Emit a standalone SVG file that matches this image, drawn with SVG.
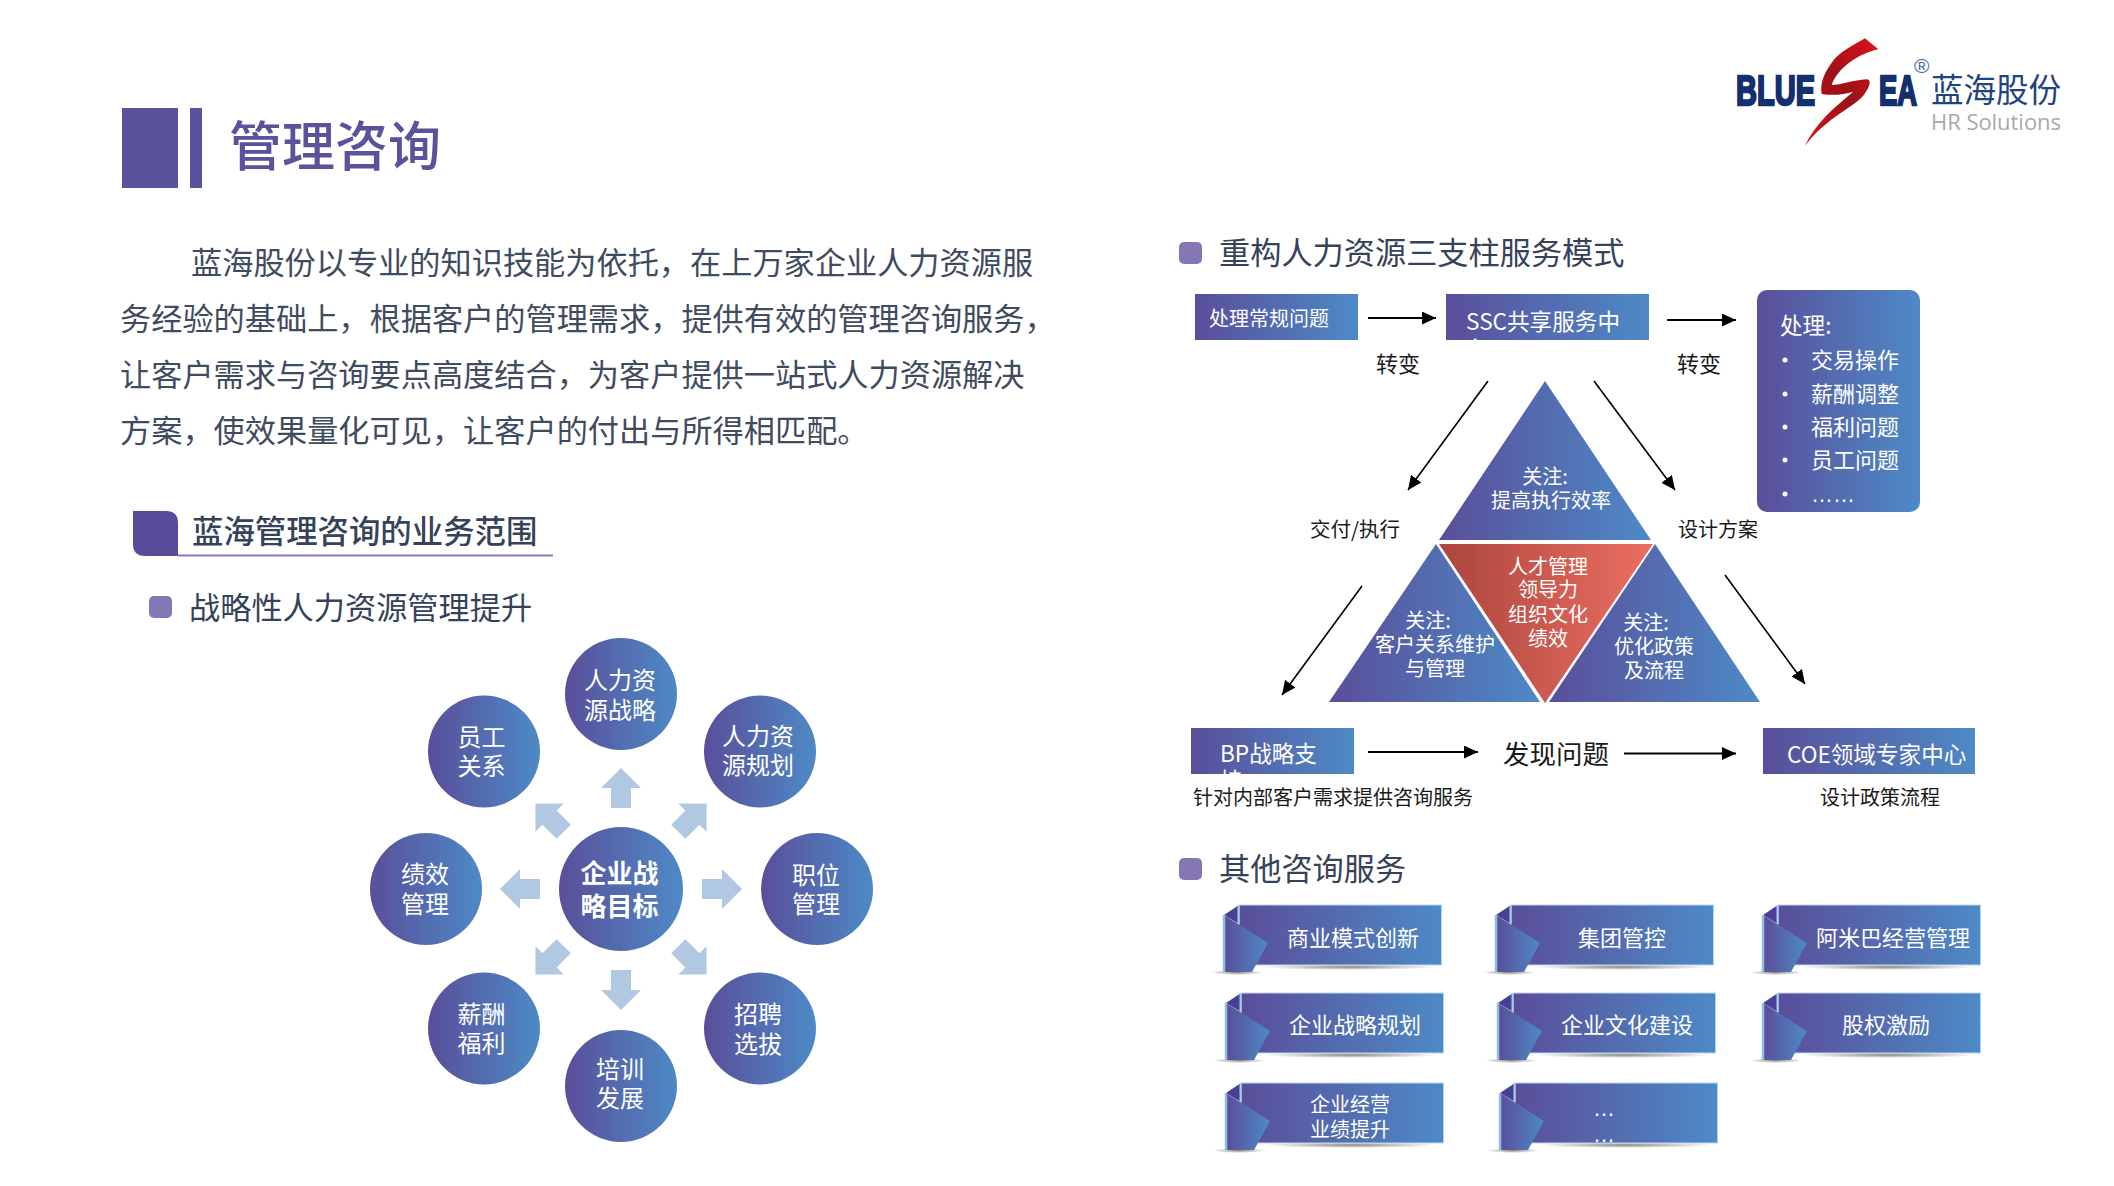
<svg xmlns="http://www.w3.org/2000/svg" width="2114" height="1186" viewBox="0 0 2114 1186">
<style>
text{font-family:"Noto Sans CJK SC","Noto Sans",sans-serif}
.w{fill:#fff}.m{text-anchor:middle}
.s20{font-size:20px}.s22{font-size:22px}.s225{font-size:22.6px}.s24{font-size:24px}
.k{fill:#1a1a1a}
.p{font-size:31.2px;fill:#3f4b60}
.h{font-size:31.2px;fill:#35435a}
.c{stroke:#000;stroke-width:2;fill:none;marker-end:url(#ah)}
.c2{stroke:#000;stroke-width:1.6;fill:none;marker-end:url(#ah)}
.hub{fill:#b1c8e2}
.bl{fill:#8576b4}
</style>
<defs>
<linearGradient id="g"><stop offset="0" stop-color="#5a4e9a"/><stop offset="1" stop-color="#4d8ac6"/></linearGradient>
<linearGradient id="r"><stop offset="0" stop-color="#ab463e"/><stop offset="1" stop-color="#ec6e62"/></linearGradient>
<linearGradient id="sw" x1="0.9" y1="0" x2="0.1" y2="1"><stop offset="0" stop-color="#d6121c"/><stop offset="0.5" stop-color="#9c1016"/><stop offset="1" stop-color="#d6121c"/></linearGradient>
<radialGradient id="sh"><stop offset="0" stop-color="#8d8880"/><stop offset="1" stop-color="#8d8880" stop-opacity="0"/></radialGradient>
<marker id="ah" markerUnits="userSpaceOnUse" markerWidth="16" markerHeight="14" refX="14" refY="6.5" orient="auto"><path d="M0 0L14 6.5L0 13Z" fill="#000"/></marker>
<polygon id="hub" class="hub" points="0,-121 20,-101 10,-101 10,-81 -10,-81 -10,-101 -20,-101"/>
<g id="rib">
<ellipse cx="110" cy="62" rx="88" ry="3" fill="url(#sh)"/>
<ellipse cx="-2" cy="67.5" rx="26" ry="2.5" fill="url(#sh)"/>
<rect x="0" y="0" width="202.6" height="60" fill="url(#g)" stroke="#b9d8ef" stroke-width="1"/>
<polygon points="-15,10 0,0 0,19" fill="#4a3f95"/>
<line x1="-0.5" y1="0" x2="-0.5" y2="19" stroke="#a8cfe9" stroke-width="2"/>
<polygon points="-15,10 29,38 13,67 -15,67" fill="url(#g)"/>
<line x1="-15" y1="10" x2="-15" y2="67" stroke="#8fc0e4" stroke-width="2.5"/>
</g>
<clipPath id="c1"><rect x="1446" y="294" width="203" height="46"/></clipPath>
<clipPath id="c2"><rect x="1191" y="728" width="163" height="46"/></clipPath>
</defs>
<rect width="2114" height="1186" fill="#fff"/>

<g id="title">
<rect x="122" y="108" width="56" height="80" fill="#59539b"/>
<rect x="190" y="108" width="12" height="80" fill="#59539b"/>
<text x="229" y="166" font-size="53" font-weight="500" fill="#59539b">管理咨询</text>
</g>

<g id="logo">
<text x="1736" y="105" font-size="42" font-weight="700" textLength="79" lengthAdjust="spacingAndGlyphs" fill="#142f6d" stroke="#142f6d" stroke-width="2.4" style="font-family:'Liberation Sans',sans-serif">BLUE</text>
<text x="1879" y="105" font-size="42" font-weight="700" textLength="38" lengthAdjust="spacingAndGlyphs" fill="#142f6d" stroke="#142f6d" stroke-width="2.4" style="font-family:'Liberation Sans',sans-serif">EA</text>
<path transform="translate(1720,20) scale(.3333)" fill="url(#sw)" d="M435 55L475 88C420 100 355 140 335 195C365 195 400 180 440 178C455 178 450 200 435 220C410 260 320 290 255 378C285 310 345 260 400 215C375 222 340 228 305 222C300 190 310 160 345 115C370 90 410 70 435 55Z"/>
<text x="1914" y="73" font-size="21" fill="#4a6aa5" style="font-family:'Liberation Sans',sans-serif">®</text>
<text x="1931" y="102" font-size="32.5" fill="#1f4483">蓝海股份</text>
<text x="1931" y="130" font-size="22" fill="#a9a9a9" textLength="130" style="font-family:'Open Sans',sans-serif">HR Solutions</text>
</g>

<g id="intro">
<text class="p" x="191" y="274">蓝海股份以专业的知识技能为依托，在上万家企业人力资源服</text>
<text class="p" x="120" y="330">务经验的基础上，根据客户的管理需求，提供有效的管理咨询服务，</text>
<text class="p" x="120" y="386">让客户需求与咨询要点高度结合，为客户提供一站式人力资源解决</text>
<text class="p" x="120" y="442">方案，使效果量化可见，让客户的付出与所得相匹配。</text>
</g>

<g id="scope-head">
<path d="M133 511H166Q178 511 178 523V556H145Q133 556 133 544Z" fill="#5a4a9b"/>
<line x1="178" y1="555.5" x2="553" y2="555.5" stroke="#8a76b8" stroke-width="2"/>
<text class="h" x="192" y="543" font-weight="500" style="font-size:31.4px">蓝海管理咨询的业务范围</text>
</g>
<g id="scope-sub">
<rect class="bl" x="149" y="596" width="23" height="22" rx="5"/>
<text class="h" x="189" y="619">战略性人力资源管理提升</text>
</g>

<g id="hub-arrows">
<use href="#hub" transform="translate(621,889)"/>
<use href="#hub" transform="translate(621,889) rotate(45)"/>
<use href="#hub" transform="translate(621,889) rotate(90)"/>
<use href="#hub" transform="translate(621,889) rotate(135)"/>
<use href="#hub" transform="translate(621,889) rotate(180)"/>
<use href="#hub" transform="translate(621,889) rotate(225)"/>
<use href="#hub" transform="translate(621,889) rotate(270)"/>
<use href="#hub" transform="translate(621,889) rotate(315)"/>
</g>
<g id="n-center"><circle cx="621" cy="889" r="62" fill="url(#g)"/><text class="w m" x="619.500" y="883" font-size="26" font-weight="700">企业战</text><text class="w m" x="619.500" y="916" font-size="26" font-weight="700">略目标</text></g>
<g id="n-top"><circle cx="621" cy="694" r="56" fill="url(#g)"/><text class="w m s24" x="620" y="689">人力资</text><text class="w m s24" x="620" y="719">源战略</text></g>
<g id="n-tr"><circle cx="760" cy="751.500" r="56" fill="url(#g)"/><text class="w m s24" x="758" y="745">人力资</text><text class="w m s24" x="758" y="774">源规划</text></g>
<g id="n-r"><circle cx="817" cy="889" r="56" fill="url(#g)"/><text class="w m s24" x="816" y="884">职位</text><text class="w m s24" x="816" y="913">管理</text></g>
<g id="n-br"><circle cx="760" cy="1028.500" r="56" fill="url(#g)"/><text class="w m s24" x="758" y="1023">招聘</text><text class="w m s24" x="758" y="1053">选拔</text></g>
<g id="n-b"><circle cx="621" cy="1086" r="56" fill="url(#g)"/><text class="w m s24" x="620" y="1078">培训</text><text class="w m s24" x="620" y="1107">发展</text></g>
<g id="n-bl"><circle cx="484" cy="1028.500" r="56" fill="url(#g)"/><text class="w m s24" x="481.500" y="1023">薪酬</text><text class="w m s24" x="481.500" y="1052">福利</text></g>
<g id="n-l"><circle cx="426" cy="889" r="56" fill="url(#g)"/><text class="w m s24" x="425" y="883">绩效</text><text class="w m s24" x="425" y="913">管理</text></g>
<g id="n-tl"><circle cx="484" cy="751.500" r="56" fill="url(#g)"/><text class="w m s24" x="481.500" y="746">员工</text><text class="w m s24" x="481.500" y="775">关系</text></g>

<g id="model-head">
<rect class="bl" x="1179" y="242" width="23" height="22" rx="5"/>
<text class="h" x="1219" y="263.500">重构人力资源三支柱服务模式</text>
</g>
<g id="n-routine"><rect x="1195" y="294" width="163" height="46" fill="url(#g)"/><text class="w s20" x="1209" y="326">处理常规问题</text></g>
<g id="n-ssc"><rect x="1446" y="294" width="203" height="46" fill="url(#g)"/><g clip-path="url(#c1)"><text class="w s225" x="1466" y="330">SSC共享服务中</text><text class="w s225" x="1466" y="357">心</text></g></g>
<g id="n-handle"><rect x="1757" y="290" width="163" height="222" rx="10" fill="url(#g)"/>
<text class="w s225" x="1780" y="334">处理:</text>
<g fill="#fff"><circle cx="1785" cy="360" r="2.5"/><circle cx="1785" cy="394" r="2.5"/><circle cx="1785" cy="427" r="2.5"/><circle cx="1785" cy="460" r="2.5"/><circle cx="1785" cy="494" r="2.5"/></g>
<text class="w s22" x="1811" y="368">交易操作</text><text class="w s22" x="1811" y="402">薪酬调整</text><text class="w s22" x="1811" y="435">福利问题</text><text class="w s22" x="1811" y="468">员工问题</text>
<text class="w s22" x="1811" y="502" style="font-family:'Liberation Sans',sans-serif">……</text>
</g>

<g id="connectors">
<line class="c" x1="1368" y1="318" x2="1436" y2="318"/>
<line class="c" x1="1667" y1="320" x2="1736" y2="320"/>
<line class="c2" x1="1488" y1="381" x2="1408" y2="490"/>
<line class="c2" x1="1594" y1="381" x2="1675" y2="490"/>
<line class="c2" x1="1362" y1="586" x2="1282" y2="695"/>
<line class="c2" x1="1725" y1="575" x2="1805" y2="684"/>
<line class="c" x1="1368" y1="752" x2="1478" y2="752"/>
<line class="c" x1="1624" y1="753.5" x2="1736" y2="753.5"/>
</g>
<g id="edge-labels">
<text class="k s22 m" x="1398" y="372">转变</text>
<text class="k s22 m" x="1699" y="372">转变</text>
<text class="k m" x="1355" y="537" style="font-size:20.5px">交付/执行</text>
<text class="k s20 m" x="1718" y="537">设计方案</text>
</g>

<g id="n-top-tri"><polygon points="1545,381 1651,540 1439,540" fill="url(#g)"/><text class="w s20 m" x="1545" y="484">关注:</text><text class="w s20 m" x="1551" y="508">提高执行效率</text></g>
<g id="n-red-tri"><polygon points="1439,544 1653,544 1545,703" fill="url(#r)"/><text class="w s20 m" x="1548" y="574">人才管理</text><text class="w s20 m" x="1548" y="597">领导力</text><text class="w s20 m" x="1548" y="622">组织文化</text><text class="w s20 m" x="1548" y="646">绩效</text></g>
<g id="n-left-tri"><polygon points="1436,544 1540,702 1329,702" fill="url(#g)"/><text class="w s20 m" x="1428" y="628">关注:</text><text class="w s20 m" x="1435" y="652">客户关系维护</text><text class="w s20 m" x="1435" y="676">与管理</text></g>
<g id="n-right-tri"><polygon points="1655,544 1760,702 1549,702" fill="url(#g)"/><text class="w s20 m" x="1646" y="630">关注:</text><text class="w s20 m" x="1654" y="654">优化政策</text><text class="w s20 m" x="1654" y="678">及流程</text></g>

<g id="n-bp"><rect x="1191" y="728" width="163" height="46" fill="url(#g)"/><g clip-path="url(#c2)"><text class="w s225" x="1220" y="762">BP战略支</text><text class="w s225" x="1220" y="789">持</text></g></g>
<text id="n-find" class="k m" x="1556" y="764" font-size="26.5">发现问题</text>
<g id="n-coe"><rect x="1763" y="728" width="212" height="46" fill="url(#g)"/><text class="w s225" x="1787" y="763">COE领域专家中心</text></g>
<text class="k s20" x="1193" y="805">针对内部客户需求提供咨询服务</text>
<text class="k s20" x="1820" y="805">设计政策流程</text>

<g id="other-head">
<rect class="bl" x="1179" y="858" width="23" height="22" rx="5"/>
<text class="h" x="1219" y="880">其他咨询服务</text>
</g>
<g id="r1"><use href="#rib" x="1239" y="905"/><text class="w s22 m" x="1353" y="946">商业模式创新</text></g>
<g id="r2"><use href="#rib" x="1511" y="905"/><text class="w s22 m" x="1622" y="946">集团管控</text></g>
<g id="r3"><use href="#rib" x="1778" y="905"/><text class="w s22 m" x="1893" y="946">阿米巴经营管理</text></g>
<g id="r4"><use href="#rib" x="1241" y="993"/><text class="w s22 m" x="1355" y="1033">企业战略规划</text></g>
<g id="r5"><use href="#rib" x="1513" y="993"/><text class="w s22 m" x="1627" y="1033">企业文化建设</text></g>
<g id="r6"><use href="#rib" x="1778" y="993"/><text class="w s22 m" x="1886" y="1033">股权激励</text></g>
<g id="r7"><use href="#rib" x="1241" y="1083"/><text class="w s20 m" x="1350" y="1112">企业经营</text><text class="w s20 m" x="1350" y="1137">业绩提升</text></g>
<g id="r8"><use href="#rib" x="1515" y="1083"/><text class="w s22 m" x="1604" y="1116" style="font-family:'Liberation Sans',sans-serif">…</text><text class="w s22 m" x="1604" y="1142" style="font-family:'Liberation Sans',sans-serif">…</text></g>
</svg>
